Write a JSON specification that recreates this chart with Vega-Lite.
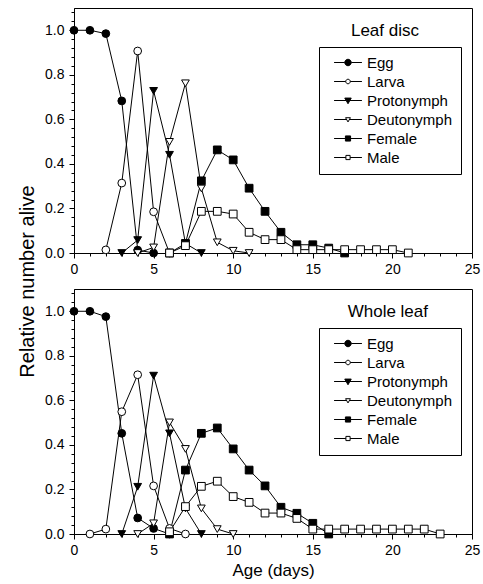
{
  "$schema": "https://vega.github.io/schema/vega-lite/v6.json",
  "background": "white",
  "padding": {"left": 16, "top": 4, "right": 5, "bottom": 4},
  "config": {
    "font": "Liberation Sans",
    "view": {"stroke": "black", "strokeWidth": 1},
    "axis": {
      "domainColor": "black", "tickColor": "black", "labelColor": "black", "titleColor": "black",
      "grid": false, "labelFontSize": 14, "labelFont": "Liberation Sans", "titleFont": "Liberation Sans",
      "titleFontWeight": "normal", "labelFlush": false, "labelOverlap": false, "tickWidth": 1, "domainWidth": 1
    },
    "title": {"font": "Liberation Sans", "fontWeight": "normal", "color": "black"}
  },
  "datasets": {
    "leafdisc": [
      {"stage": "Egg", "day": 0, "value": 1.0}, {"stage": "Egg", "day": 1, "value": 1.0}, {"stage": "Egg", "day": 2, "value": 0.985}, {"stage": "Egg", "day": 3, "value": 0.683}, {"stage": "Egg", "day": 4, "value": 0.013}, {"stage": "Egg", "day": 5, "value": 0.0},
      {"stage": "Larva", "day": 2, "value": 0.014}, {"stage": "Larva", "day": 3, "value": 0.314}, {"stage": "Larva", "day": 4, "value": 0.907}, {"stage": "Larva", "day": 5, "value": 0.185}, {"stage": "Larva", "day": 6, "value": 0.0},
      {"stage": "Protonymph", "day": 3, "value": 0.0}, {"stage": "Protonymph", "day": 4, "value": 0.058}, {"stage": "Protonymph", "day": 5, "value": 0.728}, {"stage": "Protonymph", "day": 6, "value": 0.441}, {"stage": "Protonymph", "day": 7, "value": 0.043}, {"stage": "Protonymph", "day": 8, "value": 0.0},
      {"stage": "Deutonymph", "day": 4, "value": 0.0}, {"stage": "Deutonymph", "day": 5, "value": 0.025}, {"stage": "Deutonymph", "day": 6, "value": 0.499}, {"stage": "Deutonymph", "day": 7, "value": 0.762}, {"stage": "Deutonymph", "day": 8, "value": 0.29}, {"stage": "Deutonymph", "day": 9, "value": 0.048}, {"stage": "Deutonymph", "day": 10, "value": 0.01}, {"stage": "Deutonymph", "day": 11, "value": 0.0},
      {"stage": "Female", "day": 6, "value": 0.0}, {"stage": "Female", "day": 7, "value": 0.043}, {"stage": "Female", "day": 8, "value": 0.324}, {"stage": "Female", "day": 9, "value": 0.463}, {"stage": "Female", "day": 10, "value": 0.418}, {"stage": "Female", "day": 11, "value": 0.291}, {"stage": "Female", "day": 12, "value": 0.187}, {"stage": "Female", "day": 13, "value": 0.093}, {"stage": "Female", "day": 14, "value": 0.037}, {"stage": "Female", "day": 15, "value": 0.037}, {"stage": "Female", "day": 16, "value": 0.022}, {"stage": "Female", "day": 17, "value": 0.0},
      {"stage": "Male", "day": 6, "value": 0.0}, {"stage": "Male", "day": 7, "value": 0.033}, {"stage": "Male", "day": 8, "value": 0.187}, {"stage": "Male", "day": 9, "value": 0.187}, {"stage": "Male", "day": 10, "value": 0.175}, {"stage": "Male", "day": 11, "value": 0.093}, {"stage": "Male", "day": 12, "value": 0.06}, {"stage": "Male", "day": 13, "value": 0.06}, {"stage": "Male", "day": 14, "value": 0.015}, {"stage": "Male", "day": 15, "value": 0.015}, {"stage": "Male", "day": 16, "value": 0.015}, {"stage": "Male", "day": 17, "value": 0.015}, {"stage": "Male", "day": 18, "value": 0.015}, {"stage": "Male", "day": 19, "value": 0.015}, {"stage": "Male", "day": 20, "value": 0.015}, {"stage": "Male", "day": 21, "value": 0.0}
    ],
    "wholeleaf": [
      {"stage": "Egg", "day": 0, "value": 1.0}, {"stage": "Egg", "day": 1, "value": 1.0}, {"stage": "Egg", "day": 2, "value": 0.976}, {"stage": "Egg", "day": 3, "value": 0.452}, {"stage": "Egg", "day": 4, "value": 0.072}, {"stage": "Egg", "day": 5, "value": 0.025}, {"stage": "Egg", "day": 6, "value": 0.0},
      {"stage": "Larva", "day": 1, "value": 0.0}, {"stage": "Larva", "day": 2, "value": 0.022}, {"stage": "Larva", "day": 3, "value": 0.549}, {"stage": "Larva", "day": 4, "value": 0.715}, {"stage": "Larva", "day": 5, "value": 0.216}, {"stage": "Larva", "day": 6, "value": 0.025}, {"stage": "Larva", "day": 7, "value": 0.0},
      {"stage": "Protonymph", "day": 3, "value": 0.0}, {"stage": "Protonymph", "day": 4, "value": 0.212}, {"stage": "Protonymph", "day": 5, "value": 0.711}, {"stage": "Protonymph", "day": 6, "value": 0.452}, {"stage": "Protonymph", "day": 7, "value": 0.115}, {"stage": "Protonymph", "day": 8, "value": 0.0},
      {"stage": "Deutonymph", "day": 4, "value": 0.0}, {"stage": "Deutonymph", "day": 5, "value": 0.048}, {"stage": "Deutonymph", "day": 6, "value": 0.501}, {"stage": "Deutonymph", "day": 7, "value": 0.382}, {"stage": "Deutonymph", "day": 8, "value": 0.115}, {"stage": "Deutonymph", "day": 9, "value": 0.022}, {"stage": "Deutonymph", "day": 10, "value": 0.0},
      {"stage": "Female", "day": 6, "value": 0.0}, {"stage": "Female", "day": 7, "value": 0.287}, {"stage": "Female", "day": 8, "value": 0.452}, {"stage": "Female", "day": 9, "value": 0.476}, {"stage": "Female", "day": 10, "value": 0.382}, {"stage": "Female", "day": 11, "value": 0.287}, {"stage": "Female", "day": 12, "value": 0.216}, {"stage": "Female", "day": 13, "value": 0.12}, {"stage": "Female", "day": 14, "value": 0.093}, {"stage": "Female", "day": 15, "value": 0.048}, {"stage": "Female", "day": 16, "value": 0.0},
      {"stage": "Male", "day": 6, "value": 0.01}, {"stage": "Male", "day": 7, "value": 0.123}, {"stage": "Male", "day": 8, "value": 0.214}, {"stage": "Male", "day": 9, "value": 0.237}, {"stage": "Male", "day": 10, "value": 0.168}, {"stage": "Male", "day": 11, "value": 0.142}, {"stage": "Male", "day": 12, "value": 0.094}, {"stage": "Male", "day": 13, "value": 0.094}, {"stage": "Male", "day": 14, "value": 0.07}, {"stage": "Male", "day": 15, "value": 0.022}, {"stage": "Male", "day": 16, "value": 0.022}, {"stage": "Male", "day": 17, "value": 0.022}, {"stage": "Male", "day": 18, "value": 0.022}, {"stage": "Male", "day": 19, "value": 0.022}, {"stage": "Male", "day": 20, "value": 0.022}, {"stage": "Male", "day": 21, "value": 0.022}, {"stage": "Male", "day": 22, "value": 0.022}, {"stage": "Male", "day": 23, "value": 0.0}
    ]
  },
  "bounds": "flush",
  "spacing": 36,
  "resolve": {
    "scale": {"shape": "independent", "fill": "independent"},
    "legend": {"shape": "independent", "fill": "independent"}
  },
  "vconcat": [
    {
      "width": 398, "height": 245,
      "data": {"name": "leafdisc"},
      "title": {"text": "Leaf disc", "anchor": "end", "frame": "group", "orient": "top", "offset": 0, "baseline": "alphabetic", "dx": -53, "dy": 48, "fontSize": 17},
      "layer": [
        {
          "mark": {"type": "line", "color": "black", "strokeWidth": 1},
          "encoding": {
            "x": {"field": "day", "type": "quantitative", "scale": {"domain": [0, 25], "nice": false},
              "axis": {"title": null, "labelOverlap": false, "tickCount": 100, "values": [0,1,2,3,4,5,6,7,8,9,10,11,12,13,14,15,16,17,18,19,20,21,22,23,24,25],
                "labelExpr": "datum.value % 5 === 0 ? format(datum.value, 'd') : ''",
                "tickSize": {"condition": {"test": "datum.value % 5 === 0", "value": 5}, "value": 3}, "labelPadding": 4}},
            "y": {"field": "value", "type": "quantitative", "scale": {"domain": [0, 1.1], "nice": false},
              "axis": {"title": "Relative number alive", "labelOverlap": false, "tickCount": 100, "titleFontSize": 20, "titleX": -37, "titleY": 273, "titleAngle": 270, "titleAlign": "center", "titleBaseline": "bottom",
                "values": [0,0.04,0.08,0.12,0.16,0.2,0.24,0.28,0.32,0.36,0.4,0.44,0.48,0.52,0.56,0.6,0.64,0.68,0.72,0.76,0.8,0.84,0.88,0.92,0.96,1.0,1.04,1.08],
                "labelExpr": "abs(datum.value*5 - round(datum.value*5)) < 0.000001 ? format(datum.value, '.1f') : ''",
                "tickSize": {"condition": {"test": "abs(datum.value*5 - round(datum.value*5)) < 0.000001", "value": 5}, "value": 3}, "labelPadding": 5}},
            "detail": {"field": "stage"}
          }
        },
        {
          "mark": {"type": "point", "stroke": "black", "strokeWidth": 1, "size": 60, "opacity": 1, "fillOpacity": 1},
          "encoding": {
            "x": {"field": "day", "type": "quantitative"},
            "y": {"field": "value", "type": "quantitative"},
            "shape": {"field": "stage", "type": "nominal", "scale": {"domain": ["Male","Female","Deutonymph","Protonymph","Larva","Egg"], "range": ["square","square","triangle-down","triangle-down","circle","circle"]}, "legend": null},
            "fill": {"field": "stage", "type": "nominal", "scale": {"domain": ["Egg","Larva","Protonymph","Deutonymph","Female","Male"], "range": ["black","white","black","white","black","white"]},
              "legend": {"title": null, "orient": "none", "legendX": 245, "legendY": 39, "padding": 8, "strokeColor": "black", "fillColor": "white",
                "labelFontSize": 15, "labelFont": "Liberation Sans", "labelColor": "black", "symbolSize": 42, "symbolOffset": 13.5, "labelOffset": 11.5, "rowPadding": 3,
                "symbolStrokeColor": "black", "symbolStrokeWidth": 1,
                "symbolType": {"expr": "datum.value === 'Egg' ? 'M-4.3,0H-1M1,0H4.3M-1,0A1,1 0 1,1 1,0A1,1 0 1,1 -1,0Z' : datum.value === 'Larva' ? 'M-4.3,0H-0.7M0.7,0H4.3M-0.7,0A0.7,0.7 0 1,1 0.7,0A0.7,0.7 0 1,1 -0.7,0Z' : datum.value === 'Protonymph' ? 'M-4.3,0H-0.55M0.55,0H4.3M-1,-0.75H1L0,1Z' : datum.value === 'Deutonymph' ? 'M-4.3,0H-0.42M0.42,0H4.3M-0.75,-0.55H0.75L0,0.75Z' : datum.value === 'Female' ? 'M-4.3,0H-0.8M0.8,0H4.3M-0.8,-0.8H0.8V0.8H-0.8Z' : 'M-4.3,0H-0.65M0.65,0H4.3M-0.65,-0.65H0.65V0.65H-0.65Z'"}}
            }
          }
        }
      ]
    },
    {
      "width": 398, "height": 245,
      "data": {"name": "wholeleaf"},
      "title": {"text": "Whole leaf", "anchor": "end", "frame": "group", "orient": "top", "offset": 0, "baseline": "alphabetic", "dx": -44, "dy": 48, "fontSize": 17},
      "layer": [
        {
          "mark": {"type": "line", "color": "black", "strokeWidth": 1},
          "encoding": {
            "x": {"field": "day", "type": "quantitative", "scale": {"domain": [0, 25], "nice": false},
              "axis": {"title": "Age (days)", "labelOverlap": false, "tickCount": 100, "titleFontSize": 17, "titlePadding": 5, "values": [0,1,2,3,4,5,6,7,8,9,10,11,12,13,14,15,16,17,18,19,20,21,22,23,24,25],
                "labelExpr": "datum.value % 5 === 0 ? format(datum.value, 'd') : ''",
                "tickSize": {"condition": {"test": "datum.value % 5 === 0", "value": 5}, "value": 3}, "labelPadding": 4}},
            "y": {"field": "value", "type": "quantitative", "scale": {"domain": [0, 1.1], "nice": false},
              "axis": {"title": null, "labelOverlap": false, "tickCount": 100,
                "values": [0,0.04,0.08,0.12,0.16,0.2,0.24,0.28,0.32,0.36,0.4,0.44,0.48,0.52,0.56,0.6,0.64,0.68,0.72,0.76,0.8,0.84,0.88,0.92,0.96,1.0,1.04,1.08],
                "labelExpr": "abs(datum.value*5 - round(datum.value*5)) < 0.000001 ? format(datum.value, '.1f') : ''",
                "tickSize": {"condition": {"test": "abs(datum.value*5 - round(datum.value*5)) < 0.000001", "value": 5}, "value": 3}, "labelPadding": 5}},
            "detail": {"field": "stage"}
          }
        },
        {
          "mark": {"type": "point", "stroke": "black", "strokeWidth": 1, "size": 60, "opacity": 1, "fillOpacity": 1},
          "encoding": {
            "x": {"field": "day", "type": "quantitative"},
            "y": {"field": "value", "type": "quantitative"},
            "shape": {"field": "stage", "type": "nominal", "scale": {"domain": ["Male","Female","Deutonymph","Protonymph","Larva","Egg"], "range": ["square","square","triangle-down","triangle-down","circle","circle"]}, "legend": null},
            "fill": {"field": "stage", "type": "nominal", "scale": {"domain": ["Egg","Larva","Protonymph","Deutonymph","Female","Male"], "range": ["black","white","black","white","black","white"]},
              "legend": {"title": null, "orient": "none", "legendX": 245, "legendY": 39, "padding": 8, "strokeColor": "black", "fillColor": "white",
                "labelFontSize": 15, "labelFont": "Liberation Sans", "labelColor": "black", "symbolSize": 42, "symbolOffset": 13.5, "labelOffset": 11.5, "rowPadding": 3,
                "symbolStrokeColor": "black", "symbolStrokeWidth": 1,
                "symbolType": {"expr": "datum.value === 'Egg' ? 'M-4.3,0H-1M1,0H4.3M-1,0A1,1 0 1,1 1,0A1,1 0 1,1 -1,0Z' : datum.value === 'Larva' ? 'M-4.3,0H-0.7M0.7,0H4.3M-0.7,0A0.7,0.7 0 1,1 0.7,0A0.7,0.7 0 1,1 -0.7,0Z' : datum.value === 'Protonymph' ? 'M-4.3,0H-0.55M0.55,0H4.3M-1,-0.75H1L0,1Z' : datum.value === 'Deutonymph' ? 'M-4.3,0H-0.42M0.42,0H4.3M-0.75,-0.55H0.75L0,0.75Z' : datum.value === 'Female' ? 'M-4.3,0H-0.8M0.8,0H4.3M-0.8,-0.8H0.8V0.8H-0.8Z' : 'M-4.3,0H-0.65M0.65,0H4.3M-0.65,-0.65H0.65V0.65H-0.65Z'"}}
            }
          }
        }
      ]
    }
  ]
}
